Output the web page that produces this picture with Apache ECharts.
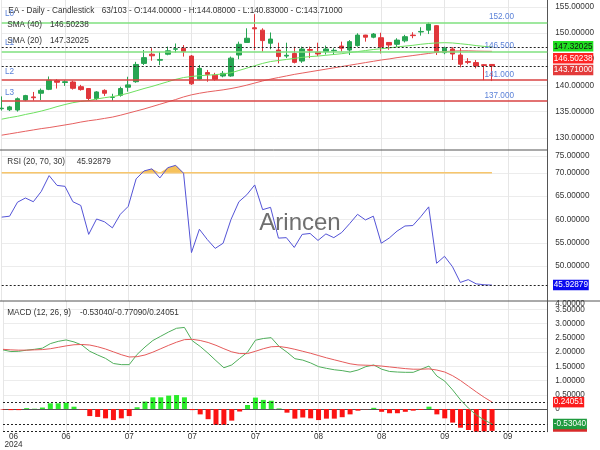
<!DOCTYPE html>
<html><head><meta charset="utf-8">
<script src="https://cdn.jsdelivr.net/npm/echarts@6/dist/echarts.min.js"></script>
<style>html,body{margin:0;padding:0;background:#fff}#c{width:600px;height:450px}</style>
</head><body><div id="c"></div>
<script>
// ---------------- data ----------------
const dates = ['2024-06-13','2024-06-14','2024-06-17','2024-06-18','2024-06-20','2024-06-21','2024-06-24','2024-06-25','2024-06-26','2024-06-27',
'2024-06-28','2024-07-01','2024-07-02','2024-07-03','2024-07-05','2024-07-08','2024-07-09','2024-07-10','2024-07-11','2024-07-12',
'2024-07-15','2024-07-16','2024-07-17','2024-07-18','2024-07-19','2024-07-22','2024-07-23','2024-07-24','2024-07-25','2024-07-26',
'2024-07-29','2024-07-30','2024-07-31','2024-08-01','2024-08-02','2024-08-05','2024-08-06','2024-08-07','2024-08-08','2024-08-09',
'2024-08-12','2024-08-13','2024-08-14','2024-08-15','2024-08-16','2024-08-19','2024-08-20','2024-08-21','2024-08-22','2024-08-23',
'2024-08-26','2024-08-27','2024-08-28','2024-08-29','2024-08-30','2024-09-03','2024-09-04','2024-09-05','2024-09-06','2024-09-09',
'2024-09-10','2024-09-11','2024-09-12','2024-09-13','2024-09-16','2024-09-17','2024-09-18','2024-09-19','2024-09-20','2024-09-23'];

// [open, close, low, high]
const ohlc = [
[135.55,135.65,135.2,137.9],[135.35,135.9,135.1,136.1],[135.3,137.45,135.0,137.7],[137.2,138.05,137.0,138.2],[137.8,137.65,137.1,138.75],
[138.5,139.05,137.2,139.4],[139.25,141.0,139.1,141.7],[140.95,140.6,139.4,141.2],[140.55,140.7,139.9,141.0],[140.65,139.45,139.2,140.9],
[139.75,139.2,139.0,140.1],[139.4,137.5,137.1,139.5],[137.5,138.75,137.2,138.9],[139.05,138.5,138.0,139.25],[137.7,137.75,137.1,138.4],
[138.1,139.4,137.85,139.75],[139.65,140.1,138.8,141.65],[140.7,144.0,140.5,144.5],[144.2,145.3,143.9,146.75],[145.95,145.65,144.7,147.1],
[144.8,144.95,143.85,146.4],[145.95,146.6,145.75,147.4],[146.9,147.0,146.25,148.0],[147.1,146.45,145.5,147.7],[145.6,140.3,140.1,145.8],
[141.2,143.25,141.0,143.9],[142.45,142.1,140.7,142.95],[141.95,141.15,140.9,142.4],[141.8,142.3,141.55,142.75],[141.8,145.2,141.65,145.5],
[145.8,147.85,145.0,148.35],[148.2,149.0,148.15,150.9],[151.0,150.8,146.75,153.6],[150.55,148.55,146.45,150.9],[148.05,148.85,146.9,150.1],
[146.75,145.5,144.2,148.15],[145.6,145.75,145.2,148.15],[146.1,144.4,144.2,147.4],[144.65,146.95,144.3,147.4],[146.85,146.7,145.2,147.4],
[146.35,146.0,145.6,148.15],[146.45,146.95,145.9,147.6],[146.6,146.7,145.8,147.1],[147.5,147.1,146.45,148.35],[146.75,148.35,145.8,148.65],
[147.6,149.6,147.4,149.95],[149.6,149.2,148.35,149.65],[149.2,149.8,149.0,150.0],[149.1,147.4,146.1,150.05],[148.2,147.7,146.8,148.25],
[147.85,148.65,147.3,149.0],[148.5,149.3,148.2,149.65],[149.6,149.5,149.0,150.15],[150.2,150.3,149.5,151.1],[150.55,151.7,149.8,152.0],
[151.4,146.3,145.8,151.5],[146.25,147.1,145.95,147.4],[146.95,146.0,144.85,147.3],[145.8,144.05,143.45,147.1],[144.55,144.4,144.05,145.2],
[144.35,143.7,143.25,144.85],[143.95,143.8,141.0,144.05],[144.0,143.71,140.83,144.08]];

const sma20 = [133.55,133.85,134.1,134.45,134.75,135.1,135.5,135.95,136.35,136.7,
136.95,137.1,137.4,137.65,137.85,138.15,138.5,138.95,139.4,139.8,
140.25,140.7,141.15,141.5,141.7,141.85,141.95,142.05,142.2,142.4,
142.85,143.3,143.75,144.2,144.55,144.75,144.95,145.15,145.35,145.5,
145.6,145.75,145.9,146.05,146.25,146.45,146.65,146.85,147.0,147.15,
147.35,147.5,147.65,147.85,148.0,148.1,148.15,148.1,147.95,147.8,
147.6,147.45,147.32025];

const sma40 = [130.5,130.75,131.0,131.25,131.5,131.75,131.95,132.2,132.45,132.7,
133.0,133.25,133.45,133.7,133.95,134.3,134.7,135.1,135.5,135.95,
136.4,136.85,137.3,137.8,138.2,138.5,138.75,138.95,139.15,139.4,
139.7,140.05,140.45,140.85,141.2,141.5,141.8,142.1,142.35,142.6,
142.85,143.1,143.35,143.6,143.85,144.1,144.35,144.6,144.85,145.05,
145.3,145.5,145.7,145.9,146.1,146.3,146.45,146.55,146.6,146.6,
146.55,146.52,146.50238];

const rsi = [60.5,60.7,63.7,64.6,63.8,66.0,69.4,67.3,67.1,63.8,
63.0,56.8,60.1,59.5,58.2,61.1,62.8,68.7,70.4,70.85,
68.9,71.1,71.6,69.9,52.9,57.9,55.7,53.8,54.9,60.0,
63.8,65.3,67.4,62.1,62.6,56.0,56.1,54.0,56.8,57.0,
55.5,56.9,56.1,57.2,59.1,61.1,59.9,60.7,54.9,56.0,
57.5,58.6,58.7,60.6,62.7,50.6,52.1,49.9,46.5,47.1,
46.2,46.0,45.92879];

const macdLine = [2.08,2.02,2.03,2.07,2.10,2.14,2.30,2.38,2.43,2.36,
2.25,2.03,1.90,1.78,1.60,1.56,1.56,1.92,2.18,2.41,
2.56,2.71,2.84,2.87,2.40,2.20,1.96,1.70,1.45,1.55,
1.78,2.00,2.42,2.48,2.51,2.20,2.00,1.77,1.72,1.62,
1.49,1.43,1.38,1.35,1.30,1.37,1.49,1.55,1.40,1.32,
1.30,1.29,1.29,1.40,1.51,1.16,0.98,0.67,0.32,0.03,
-0.21,-0.39,-0.53040];

const signalLine = [2.10,2.08,2.07,2.07,2.08,2.09,2.12,2.17,2.22,2.26,
2.27,2.25,2.19,2.11,2.01,1.91,1.83,1.84,1.90,2.00,
2.12,2.24,2.35,2.44,2.45,2.41,2.34,2.24,2.12,2.01,
1.95,1.95,2.03,2.12,2.19,2.20,2.16,2.10,2.03,1.96,
1.88,1.80,1.73,1.66,1.59,1.55,1.54,1.53,1.51,1.48,
1.45,1.42,1.40,1.40,1.41,1.37,1.30,1.17,1.00,0.80,
0.60,0.41,0.24051];

const histogram = [-0.02,-0.04,-0.04,0.03,0.01,0.05,0.20,0.20,0.22,0.08,
-0.02,-0.25,-0.28,-0.33,-0.39,-0.33,-0.25,0.06,0.26,0.41,
0.41,0.47,0.49,0.41,-0.04,-0.19,-0.36,-0.56,-0.56,-0.41,
-0.09,0.14,0.40,0.32,0.29,0.02,-0.13,-0.34,-0.30,-0.33,
-0.39,-0.34,-0.34,-0.29,-0.19,-0.06,-0.01,0.04,-0.10,-0.15,
-0.15,-0.10,-0.06,-0.035,0.08,-0.19,-0.33,-0.48,-0.66,-0.74,
-0.80,-0.79,-0.77090];

const levels = [
  {tag:'L0', value:152,   text:'152.00'},
  {tag:'L1', value:146.5, text:'146.500'},
  {tag:'L2', value:141,   text:'141.000'},
  {tag:'L3', value:137,   text:'137.000'}
];
const levelColors = ['#7fe07f','#7fe07f','#d84343','#d84343'];
const priceTicks = [130,135,140,145,150,155];
const rsiTicks = [50,55,60,65,70,75];
const macdTicks = [0,0.5,1,1.5,2,2.5,3,3.5,4];
const overbought = 70;
const totalBars = 103;

// ---------------- layout ----------------
const FONT = '"Liberation Sans", Arial, sans-serif';
const FS = 8.2;
const G = {left:1.7, right:52.7};
const priceRange = [127.67, 156.3];
const rsiRange = [42.52, 74.89];
const macdRange = [-0.80, 3.80];
// top tick labels are nudged inside the panel
const rsiTopLabelAt = 73.6, macdTopLabelAt = 3.69;

const chart = echarts.init(document.getElementById('c'));
const last = ohlc[ohlc.length-1];
const n = ohlc.length;
const rsiLast = rsi[n-1], macdLast = macdLine[n-1], sigLast = signalLine[n-1], histLast = histogram[n-1];

function xAxisCfg(gi, showLabel) {
  return {type:'category', gridIndex:gi, data:dates, boundaryGap:false,
    axisLine:{show:showLabel, lineStyle:{color:'#555'}}, axisTick:{show:false},
    splitLine:{show:true, interval:7, lineStyle:{color:'#e6e6e6'}},
    axisLabel:{show:showLabel, interval:7, color:'#333', fontSize:FS, fontFamily:FONT, margin:1, lineHeight:8,
      alignMinLabel:'left',
      formatter:(v, idx) => idx === 0 ? '{f|' + v.slice(5,7) + '}\n{f|' + v.slice(0,4) + '}' : v.slice(5,7),
      rich:{f:{width:21, align:'center', fontSize:FS, fontFamily:FONT, color:'#333', lineHeight:8}}}
  };
}
function yAxisCfg(gi, range, tickVals, fmt) {
  return {type:'value', gridIndex:gi, position:'right', min:range[0], max:range[1],
    axisLine:{show:true, lineStyle:{color:'#555'}},
    axisTick:{show:false, customValues:tickVals},
    splitLine:{show:true, lineStyle:{color:'#ececec'}},
    axisLabel:{customValues:tickVals, formatter:fmt, color:'#333', fontSize:FS, fontFamily:FONT, margin:8,
      hideOverlap:false, showMinLabel:true, showMaxLabel:true}
  };
}
const dashed = (v) => ({yAxis:v, lineStyle:{type:[2,2], color:'#222', width:1}});

const option = {
  animation:false,
  grid:[
    {left:G.left, right:G.right, top:0, height:150},
    {left:G.left, right:G.right, top:150, height:151},
    {left:G.left, right:G.right, top:301, height:130.7}
  ],
  xAxis:[xAxisCfg(0,false), xAxisCfg(1,false), xAxisCfg(2,true)],
  yAxis:[
    yAxisCfg(0, priceRange, priceTicks, v => v.toFixed(5)),
    yAxisCfg(1, rsiRange, rsiTicks.map(v => v > rsiRange[1] ? rsiTopLabelAt : v),
      v => (v === rsiTopLabelAt ? 75 : v).toFixed(5)),
    yAxisCfg(2, macdRange, macdTicks.filter(v => v <= macdRange[1]),
      v => v === 0 ? '0' : v.toFixed(5))
  ],
  series:[
    {type:'candlestick', xAxisIndex:0, yAxisIndex:0, data:ohlc, barWidth:5, z:2,
      itemStyle:{color:'#27a552', color0:'#e0363b', borderColor:'#27a552', borderColor0:'#e0363b', borderWidth:1},
      markLine:{silent:true, symbol:['none','none'], label:{show:false},
        data: levels.map((l,i) => ({yAxis:l.value, lineStyle:{type:'solid', color:levelColors[i], width:1.5}}))
          .concat([dashed(sma20[n-1]), dashed(last[1])])}
    },
    {type:'line', xAxisIndex:0, yAxisIndex:0, data:sma40, showSymbol:false, z:3,
      lineStyle:{color:'#e66060', width:1}},
    {type:'line', xAxisIndex:0, yAxisIndex:0, data:sma20, showSymbol:false, z:3,
      lineStyle:{color:'#6ee060', width:1}},
    // overbought fill (between 70 and RSI where RSI > 70)
    {type:'line', xAxisIndex:1, yAxisIndex:1, stack:'ob', data:rsi.map(() => overbought), showSymbol:false,
      lineStyle:{width:0, opacity:0}, z:1},
    {type:'line', xAxisIndex:1, yAxisIndex:1, stack:'ob', data:rsi.map(v => Math.max(0, v - overbought)), showSymbol:false,
      lineStyle:{width:0, opacity:0}, areaStyle:{color:'#f6c25c', opacity:1}, z:1},
    {type:'line', xAxisIndex:1, yAxisIndex:1, data:rsi.map(() => overbought), showSymbol:false,
      lineStyle:{color:'#f7c66c', width:1.5}, z:2},
    {type:'line', xAxisIndex:1, yAxisIndex:1, data:rsi, showSymbol:false,
      lineStyle:{color:'#5353d6', width:1}, z:3,
      markLine:{silent:true, symbol:['none','none'], label:{show:false}, data:[dashed(rsiLast)]}},
    {type:'bar', xAxisIndex:2, yAxisIndex:2, data:histogram, barWidth:5, z:2,
      itemStyle:{color:p => p.value >= 0 ? '#2aec2a' : '#fb1313'},
      markLine:{silent:true, symbol:['none','none'], label:{show:false},
        data:[dashed(sigLast), dashed(macdLast), dashed(histLast)]}},
    {type:'line', xAxisIndex:2, yAxisIndex:2, data:macdLine, showSymbol:false,
      lineStyle:{color:'#4fae5a', width:1}, z:3},
    {type:'line', xAxisIndex:2, yAxisIndex:2, data:signalLine, showSymbol:false,
      lineStyle:{color:'#e55a5a', width:1}, z:3}
  ]
};
chart.setOption(option);

// ---------------- annotations ----------------
const yPix = (gi, v) => chart.convertToPixel({gridIndex:gi}, [0, v])[1];
const font = `${FS}px ${FONT}`;
function txt(x, y, s, fill, align) {
  return {type:'text', x, y, z:60, silent:true,
    style:{text:s, fill:fill || '#333', font, align:align || 'left', verticalAlign:'middle'}};
}
function box(s, cy, bg, fg) {
  return {type:'text', x:553, y:cy, z:70, silent:true,
    style:{text:s, fill:fg, font, align:'left', verticalAlign:'middle', backgroundColor:bg,
      padding:[1.2,0.8,0.3,0.8], lineHeight:9}};
}
const f5 = v => v.toFixed(5);
const g = [];
// panel separators
g.push({type:'line', z:40, silent:true, shape:{x1:0, y1:150, x2:547.3, y2:150}, style:{stroke:'#555', lineWidth:1}});
g.push({type:'line', z:40, silent:true, shape:{x1:0, y1:301, x2:600, y2:301}, style:{stroke:'#555', lineWidth:1}});
// MACD top tick label, nudged inside the panel like the reference
const macdTop = macdTicks[macdTicks.length-1];
g.push(txt(555.3, yPix(2, macdTopLabelAt), f5(macdTop), '#333'));
// titles
g.push(txt(8.3, 11, 'EA - Daily - Candlestick'));
g.push(txt(101.7, 11, n + '/' + totalBars + ' - O:' + f5(last[0]) + ' - H:' + f5(last[3]) + ' - L:' + f5(last[2]) + ' - C:' + f5(last[1])));
g.push(txt(7.3, 25, 'SMA (40)'));
g.push(txt(50, 25, f5(sma40[n-1])));
g.push(txt(7.3, 40.7, 'SMA (20)'));
g.push(txt(50, 40.7, f5(sma20[n-1])));
g.push(txt(7.3, 161.7, 'RSI (20, 70, 30)'));
g.push(txt(76.7, 161.7, f5(rsiLast)));
g.push(txt(7.3, 312.7, 'MACD (12, 26, 9)'));
g.push(txt(80, 312.7, f5(macdLast) + '/' + f5(histLast) + '/' + f5(sigLast)));
// level labels
levels.forEach(l => {
  const y = yPix(0, l.value);
  g.push(txt(5, y - 8.3, l.tag, '#5b82d8'));
  g.push(txt(514, y - 5.5, l.text, '#5b82d8', 'right'));
});
// value boxes (stacked so they don't overlap)
const c1 = yPix(0, sma20[n-1]) - 0.8;
const c2 = Math.max(yPix(0, sma40[n-1]), c1 + 12);
const c3 = Math.max(yPix(0, last[1]), c2 + 11.7);
g.push(box(f5(sma20[n-1]), c1, '#21e021', '#111'));
g.push(box(f5(sma40[n-1]), c2, '#ff2424', '#fff'));
g.push(box(f5(last[1]), c3, '#e33a3a', '#fff'));
g.push(box(f5(rsiLast), yPix(1, rsiLast), '#0a0aef', '#fff'));
g.push(box(f5(sigLast), yPix(2, sigLast), '#fb1c1c', '#fff'));
const cm = yPix(2, macdLast);
g.push({type:'rect', z:65, silent:true, shape:{x:553, y:cm + 4, width:34, height:431.7 - cm - 4}, style:{fill:'#d82a2a'}});
g.push(box(f5(macdLast), cm, '#1f9a3e', '#fff'));
// watermark
g.push({type:'text', x:300, y:223, z:80, silent:true,
  style:{text:'Arincen', fill:'#6f6f6f', font:`24px ${FONT}`, align:'center', verticalAlign:'middle'}});
chart.setOption({graphic:g});
</script>
</body></html>
